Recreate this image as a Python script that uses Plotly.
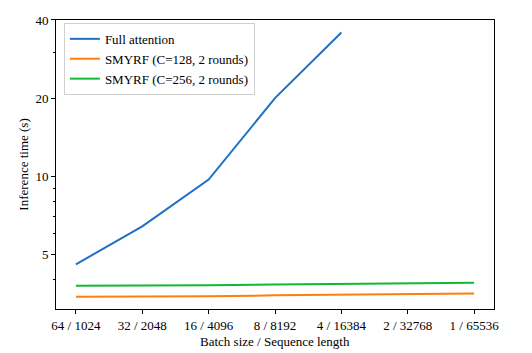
import plotly.graph_objects as go

# batch size / sequence length settings on the x axis
labels = ['64 / 1024', '32 / 2048', '16 / 4096', '8 / 8192',
          '4 / 16384', '2 / 32768', '1 / 65536']

# inference time in seconds
full_attention = [4.58, 6.42, 9.71, 20.0, 35.8]
smyrf_128 = [3.44, 3.44, 3.45, 3.48, 3.50, 3.51, 3.54]
smyrf_256 = [3.79, 3.79, 3.81, 3.83, 3.85, 3.87, 3.89]

series = [
    ('Full attention', full_attention, '#1f6fc5'),
    ('SMYRF (C=128, 2 rounds)', smyrf_128, '#ff7f0e'),
    ('SMYRF (C=256, 2 rounds)', smyrf_256, '#12b833'),
]

fig = go.Figure()
for name, values, color in series:
    fig.add_trace(go.Scatter(
        x=list(range(len(values))),
        y=values,
        mode='lines',
        name=name,
        line=dict(color=color, width=2),
    ))

font = dict(family='Liberation Serif', size=13, color='black')

# page body has an 8px margin, so the figure is a bit smaller than the window
fig.update_layout(
    width=524, height=345,
    margin=dict(l=48, r=38, t=12, b=44),
    paper_bgcolor='white',
    plot_bgcolor='white',
    font=font,
    showlegend=True,
    legend=dict(
        x=0.018, y=0.99, xanchor='left', yanchor='top',
        bgcolor='rgba(255,255,255,0.8)',
        bordercolor='#d0d0d0', borderwidth=1,
        font=font,
        tracegroupgap=0,
        itemwidth=30,
    ),
    xaxis=dict(
        automargin=False,
        range=[-0.3, 6.3],
        tickmode='array',
        tickvals=list(range(len(labels))),
        ticktext=labels,
        tickfont=font,
        ticks='outside', ticklen=4, tickcolor='black',
        showline=True, linecolor='black', linewidth=1, mirror=True,
        showgrid=False, zeroline=False,
    ),
    yaxis=dict(
        automargin=False,
        type='log',
        range=[0.489, 1.602],
        tickmode='array',
        tickvals=[5, 10, 20, 40],
        ticktext=['5', '10', '20', '40'],
        tickfont=font,
        ticks='outside', ticklen=4, tickcolor='black',
        minor=dict(tickmode='array', tickvals=[4, 6, 7, 8, 9, 30],
                   ticks='outside', ticklen=2, tickcolor='black'),
        showline=True, linecolor='black', linewidth=1, mirror=True,
        showgrid=False, zeroline=False,
    ),
    annotations=[
        dict(text='Batch size / Sequence length', xref='paper', yref='paper',
             x=0.5, y=-0.1125, xanchor='center', yanchor='middle',
             showarrow=False, font=font),
        dict(text='Inference time (s)', xref='paper', yref='paper',
             x=-0.075, y=0.5, xanchor='center', yanchor='middle',
             textangle=-90, showarrow=False, font=font),
    ],
)

fig.write_html("out.html")
